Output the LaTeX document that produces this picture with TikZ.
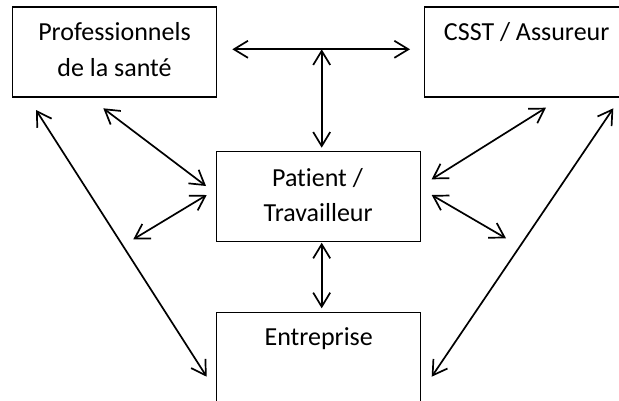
\documentclass[tikz,border=0pt]{standalone}
\usepackage{fontspec}
\setmainfont{Carlito}[Ligatures=NoCommon]
\usetikzlibrary{arrows.meta}
\begin{document}
\begin{tikzpicture}[x=1pt,y=-1pt,
  box/.style={draw=black, line width=1.1pt, minimum width=204pt, minimum height=90pt, inner sep=0pt},
  lbl/.style={anchor=base, inner sep=0pt, font=\fontsize{26pt}{30pt}\selectfont},
  link/.style={line width=1.7pt,
    {Straight Barb[length=14pt,width=17pt]}-{Straight Barb[length=14pt,width=17pt]}}]
\useasboundingbox (0,0) rectangle (619,400);
\clip (0,0) rectangle (619,400);

% boxes
\node[box] (prof) at (114.5,52) {};
\node[box] (csst) at (526.7,52) {};
\node[box] (pat)  at (318.7,196.7) {};
\node[box] (ent)  at (318.7,357.3) {};

% labels
\node[lbl] (prof1) at (114.5,40)   {Professionnels};
\node[lbl] (prof2) at (114.5,76.7) {de la santé};
\node[lbl] (csst1) at (526.7,40)   {CSST / Assureur};
\node[lbl] (pat1)  at (317.5,186)  {Patient /};
\node[lbl] (pat2)  at (318.2,221.7) {Travailleur};
\node[lbl] (ent1)  at (318.7,345)  {Entreprise};

% connector end points
\coordinate (hl) at (232.3,49.3);
\coordinate (hr) at (410,49.3);
\coordinate (hj) at (321.7,49.3);
\coordinate (pattop) at (321.7,147.7);
\coordinate (patbot) at (321.7,242.7);
\coordinate (enttop) at (321.7,308.3);
\coordinate (profa) at (103.3,108.3);
\coordinate (patla) at (206,186);
\coordinate (patlb) at (206.7,195);
\coordinate (freel) at (133.3,239.3);
\coordinate (profb) at (36,110);
\coordinate (entl)  at (206.7,376.7);
\coordinate (cssta) at (546,107.7);
\coordinate (patra) at (431.7,179.3);
\coordinate (patrb) at (431.7,195);
\coordinate (freer) at (506,238.3);
\coordinate (csstb) at (613.3,108.3);
\coordinate (entr)  at (431.7,376.7);

% connectors
\draw[link] (hl) -- (hr);
\draw[link] (hj) -- (pattop);
\draw[link] (patbot) -- (enttop);
\draw[link] (profa) -- (patla);
\draw[link] (patlb) -- (freel);
\draw[link] (profb) -- (entl);
\draw[link] (cssta) -- (patra);
\draw[link] (patrb) -- (freer);
\draw[link] (csstb) -- (entr);
\end{tikzpicture}
\end{document}
